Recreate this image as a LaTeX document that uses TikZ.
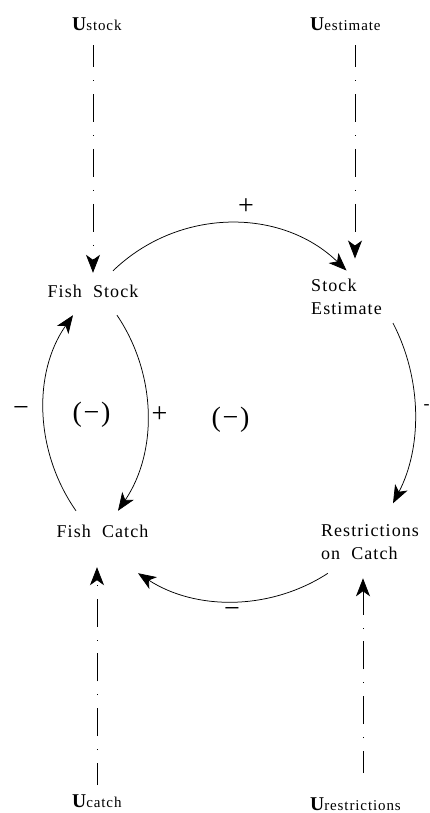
\documentclass[tikz,border=0pt]{standalone}
\usepackage{fontspec}
\setmainfont{Liberation Serif}[LetterSpace=6]
\usepackage{tikz}
\usetikzlibrary{arrows.meta}
\tikzset{
  varname/.style={font=\fontsize{18}{23.5}\selectfont, inner xsep=2pt,
                  inner ysep=14pt, text height=12pt, text depth=4pt},
  twoline/.style={font=\fontsize{18}{23.5}\selectfont, align=left,
                  inner xsep=2pt, inner ysep=8pt},
  noise/.style={font=\fontsize{15}{18}\selectfont, inner sep=0pt, anchor=base west},
  sign/.style={font=\fontsize{28}{28}\selectfont, inner sep=0pt},
  link/.style={-{Stealth[length=18pt, width=14pt, inset=5pt]}, line width=0.75pt},
  noiselink/.style={link, dash pattern=on 28pt off 13pt on 0.8pt off 13pt,
                    dash phase=6pt},
}
\newcommand{\unc}[1]{{\fontsize{19.5}{20}\selectfont\bfseries U}#1}

\begin{document}
\begin{tikzpicture}[x=1pt, y=1pt]
    \useasboundingbox (0,0) rectangle (430,-813);
    % ---------------- the four variables ----------------
    \node[varname, anchor=base] (stock) at (93,-297) {Fish\ \ Stock};
    \node[varname, anchor=base] (catch) at (102.5,-537) {Fish\ \ Catch};
    \node[twoline] (estimate) at (346.5,-296.8) {Stock\\Estimate};
    \node[twoline] (restr) at (370,-542.3) {Restrictions\\on\ \ Catch};
    % ---------------- uncertainties ----------------
    \node[noise] (ustock) at (72,-31) {\unc{stock}};
    \node[noise] (uest) at (310,-31) {\unc{estimate}};
    \node[noise] (ucatch) at (72,-807) {\unc{catch}};
    \node[noise] (urestr) at (310,-810) {\unc{restrictions}};
    % ---------------- causal links ----------------
    \draw[link] ([xshift=20pt]stock.north)
      to[out=44, in=136] (estimate.north);
    \draw[link] ([xshift=24pt]stock.south)
      to[out=-56, in=56, looseness=0.93] ([xshift=15.5pt]catch.north);
    \draw[link] ([xshift=-26.5pt]catch.north)
      to[out=125, in=-125, looseness=0.93] ([xshift=-20pt]stock.south);
    \draw[link] ([xshift=9pt]estimate.south east)
      to[out=-62.5, in=62.5, looseness=0.9] ([xshift=23pt, yshift=13pt]restr.north);
    \draw[link] ([xshift=9pt, yshift=-5pt]restr.south west)
      to[out=-147, in=-33, looseness=0.93] ([xshift=35.5pt, yshift=-18pt]catch.south);
    % uncertainty inputs (dash-dot)
    \draw[noiselink] ([xshift=21pt, yshift=-14pt]ustock.south west) -- ([yshift=-2pt]stock.north);
    \draw[noiselink] ([xshift=45pt, yshift=-14pt]uest.south west) -- ([xshift=8.5pt, yshift=12pt]estimate.north);
    \draw[noiselink] ([xshift=25pt, yshift=9pt]ucatch.north west) -- ([xshift=-5.5pt, yshift=-12pt]catch.south);
    \draw[noiselink] ([xshift=53pt, yshift=24pt]urestr.north west) -- ([xshift=-7pt, yshift=-10pt]restr.south);
    % ---------------- signs and loop polarities ----------------
    \node[sign] (plustop) at (246,-207) {+};
    \node[sign] (plusmid) at (159.5,-415) {+};
    \node[sign] (minusleft) at (21,-411) {−};
    \node[sign] (loopa) at (91.5,-415) {(−)};
    \node[sign] (loopb) at (230.5,-420) {(−)};
    \node[sign] (minusbot) at (232,-612) {−};
    \node[font=\fontsize{18}{18}\selectfont, inner sep=0pt] (minusright) at (426.5,-407) {-};
\end{tikzpicture}
\end{document}
